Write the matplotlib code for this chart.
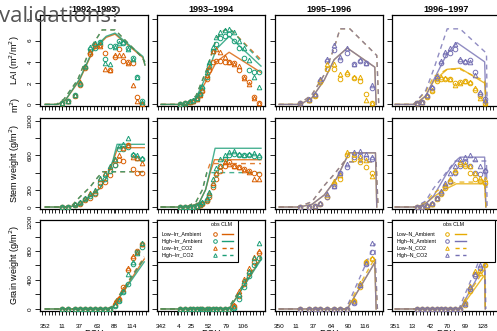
import matplotlib
matplotlib.use('Agg')
import matplotlib.pyplot as plt
from matplotlib.lines import Line2D
from matplotlib.patches import Rectangle

plt.rcParams['font.family'] = ['Liberation Sans', 'DejaVu Sans']

# Dark2 colours
ORANGE, GREEN = '#D95F02', '#1B9E77'
YELLOW, PURPLE = '#E6AB02', '#7570B3'

seasons = ['1992–1993', '1993–1994', '1995–1996', '1996–1997']
tick_doy = [[352, 11, 37, 63, 88, 114],
            [342, 4, 25, 52, 79, 106],
            [350, 11, 37, 64, 90, 116],
            [351, 13, 42, 70, 99, 128]]
year_len = [366, 365, 365, 366]
xlims = [(-7.4, 151.5), (-6.2, 163.3), (-6.1, 158.5), (-4.9, 171)]

# treatments: A = low/ambient, B = high/ambient, C = low/CO2, D = high/CO2
irr_names = ['Low–Irr_Ambient', 'High–Irr_Ambient', 'Low–Irr_CO2', 'High–Irr_CO2']
n_names = ['Low–N_Ambient', 'High–N_Ambient', 'Low–N_CO2', 'High–N_CO2']

# ---------------- 1992-1993 ----------------
obs_day_92 = [25, 34, 44, 51, 59, 66, 74, 81, 88, 96, 103, 109, 115, 122, 129, 135, 143]
lai_92 = dict(
    A=[0.1, 0.3, 0.8, 1.8, 3.4, 4.7, 5.5, 5.6, 4.8, 3.2, 4.5, 5.2, 4.1, 4.0, 3.9, 0.7, 0.05],
    B=[0.1, 0.3, 0.9, 1.9, 3.5, 5.2, 5.3, 5.9, 4.3, 5.5, 5.5, 6.0, 5.8, 5.3, 4.4, 2.6, 0.3],
    C=[0.1, 0.3, 0.9, 2.1, 3.6, 4.9, 5.7, 5.5, 3.3, 3.2, 4.6, 4.6, 4.6, 3.9, 1.8, 0.3, 0.05],
    D=[0.1, 0.3, 0.9, 2.0, 3.6, 5.4, 5.8, 5.9, 3.9, 3.8, 5.4, 5.8, 5.9, 5.2, 4.3, 2.6, 0.2])
stem_92 = dict(
    A=[0, 5, 20, 40, 80, 110, 150, 250, 290, 370, 490, 545, 530, 720, 440, 400, 390],
    B=[0, 5, 25, 50, 90, 130, 165, 280, 320, 420, 490, 680, 670, 700, 600, 570, 560],
    C=[0, 5, 30, 60, 110, 160, 190, 330, 400, 470, 545, 600, 690, 720, 580, 570, 510],
    D=[0, 5, 30, 55, 100, 150, 200, 340, 380, 480, 560, 710, 730, 800, 620, 610, 570])
grain_92 = dict(
    A=[0, 0, 0, 0, 0, 0, 0, 0, 0, 0, 60, 140, 300, 540, 700, 800, 900],
    B=[0, 0, 0, 0, 0, 0, 0, 0, 0, 0, 40, 110, 230, 340, 620, 790, 850],
    C=[0, 0, 0, 0, 0, 0, 0, 0, 0, 0, 100, 150, 280, 560, 730, 780, 890],
    D=[0, 0, 0, 0, 0, 0, 0, 0, 0, 0, 50, 120, 250, 480, 650, 770, 910])
lai_sim_92 = dict(
    A=([0, 19, 30, 51, 71, 90, 103, 144, 147], [0, 0, 0.4, 2.3, 5.1, 6.3, 6.6, 4.4, 3.7]),
    B=([0, 19, 30, 51, 71, 90, 103, 144, 147], [0, 0, 0.4, 2.4, 5.2, 6.4, 6.7, 4.5, 3.7]),
    C=([0, 17, 28, 48, 67, 84, 103, 140, 147], [0, 0, 0.5, 2.3, 5.3, 7.0, 7.0, 4.6, 4.0]),
    D=([0, 17, 28, 48, 67, 84, 103, 140, 147], [0, 0, 0.5, 2.3, 5.3, 7.0, 7.0, 4.6, 4.0]))
stem_sim_92 = dict(
    A=([0, 32, 50, 62, 81, 91, 100, 107, 146], [0, 0, 20, 100, 220, 350, 530, 690, 690]),
    B=([0, 32, 50, 62, 81, 91, 100, 106, 146], [0, 0, 20, 100, 220, 350, 545, 729, 729]),
    C=([0, 28, 40, 51, 66, 78, 85, 146], [0, 0, 20, 115, 230, 350, 410, 410]),
    D=([0, 28, 40, 51, 66, 78, 85, 146], [0, 0, 20, 115, 230, 350, 410, 410]))
grain_sim_92 = dict(
    A=([0, 94, 100, 146], [0, 0, 30, 690]),
    B=([0, 94, 100, 146], [0, 0, 30, 650]),
    C=([0, 92, 98, 146], [0, 0, 30, 720]),
    D=([0, 92, 98, 146], [0, 0, 30, 700]))

# ---------------- 1993-1994 ----------------
obs_day_93 = [30, 37, 45, 50, 56, 61, 65, 72, 76, 81, 87, 92, 100, 107, 115, 123, 131, 138, 146, 154]
lai_93 = dict(
    A=[0.05, 0.1, 0.2, 0.3, 0.5, 0.9, 1.3, 2.4, 3.2, 4.0, 4.1, 4.1, 4.0, 4.0, 3.9, 3.2, 2.6, 2.1, 0.7, 0.1],
    B=[0.05, 0.1, 0.2, 0.3, 0.6, 1.0, 1.5, 2.6, 3.6, 5.0, 5.7, 6.2, 6.4, 6.6, 6.0, 5.3, 4.4, 3.2, 3.0, 3.0],
    C=[0.05, 0.1, 0.2, 0.3, 0.5, 0.9, 1.4, 2.8, 3.5, 5.0, 5.2, 4.9, 4.5, 4.0, 3.8, 3.6, 2.5, 1.9, 0.6, 0.1],
    D=[0.05, 0.1, 0.3, 0.4, 0.6, 1.1, 1.7, 3.0, 4.0, 5.4, 6.3, 6.8, 7.0, 7.1, 6.8, 6.0, 5.3, 4.2, 2.6, 1.6])
stem_93 = dict(
    A=[0, 0, 2, 5, 10, 20, 40, 70, 120, 230, 330, 420, 480, 520, 480, 470, 440, 420, 400, 380],
    B=[0, 0, 2, 5, 10, 25, 45, 80, 140, 260, 380, 480, 560, 600, 620, 600, 610, 600, 590, 580],
    C=[0, 0, 2, 5, 12, 25, 50, 90, 160, 280, 400, 480, 520, 500, 480, 460, 430, 410, 330, 320],
    D=[0, 0, 2, 5, 12, 30, 55, 100, 180, 320, 450, 560, 600, 640, 650, 620, 600, 620, 630, 600])
grain_93 = dict(
    A=[0, 0, 0, 0, 0, 0, 0, 0, 0, 0, 0, 0, 0, 0, 40, 180, 350, 500, 650, 770],
    B=[0, 0, 0, 0, 0, 0, 0, 0, 0, 0, 0, 0, 0, 0, 20, 140, 300, 450, 600, 700],
    C=[0, 0, 0, 0, 0, 0, 0, 0, 0, 0, 0, 0, 0, 0, 60, 250, 420, 560, 720, 800],
    D=[0, 0, 0, 0, 0, 0, 0, 0, 0, 0, 0, 0, 0, 0, 30, 200, 380, 520, 700, 910])
lai_sim_93 = dict(
    A=([0, 40, 55, 72, 87, 107, 157], [0, 0, 0.5, 2.3, 4.0, 4.9, 3.0]),
    B=([0, 40, 55, 72, 87, 107, 157], [0, 0, 0.6, 2.8, 5.2, 6.4, 3.6]),
    C=([0, 38, 55, 72, 87, 100, 110, 157], [0, 0, 0.8, 3.3, 6.2, 7.0, 7.0, 4.2]),
    D=([0, 38, 55, 72, 87, 100, 110, 157], [0, 0, 0.8, 3.3, 6.2, 7.0, 7.0, 4.0]))
stem_sim_93 = dict(
    A=([0, 45, 60, 70, 78, 84, 157], [0, 0, 50, 200, 420, 550, 550]),
    B=([0, 45, 60, 70, 78, 85, 157], [0, 0, 50, 200, 450, 683, 683]),
    C=([0, 40, 55, 65, 72, 77, 157], [0, 0, 60, 200, 400, 505, 505]),
    D=([0, 40, 55, 65, 72, 157], [0, 0, 60, 200, 400, 400]))
grain_sim_93 = dict(
    A=([0, 107, 157], [0, 0, 700]),
    B=([0, 107, 157], [0, 0, 680]),
    C=([0, 105, 157], [0, 0, 730]),
    D=([0, 105, 157], [0, 0, 720]))

# ---------------- 1995-1996 ----------------
obs_day_95 = [32, 46, 55, 62, 73, 84, 93, 104, 114, 123, 133, 142]
lai_95 = dict(
    A=[0.1, 0.4, 0.8, 2.1, 3.3, 3.3, 2.4, 2.9, 2.5, 2.2, 1.0, 0.1],
    B=[0.1, 0.4, 0.9, 2.2, 4.1, 5.1, 4.2, 4.8, 3.8, 4.1, 3.9, 1.5],
    C=[0.1, 0.4, 0.9, 2.3, 3.8, 3.8, 2.9, 3.0, 2.6, 2.6, 0.4, 0.1],
    D=[0.1, 0.5, 1.0, 2.4, 4.3, 5.6, 4.5, 5.3, 3.8, 4.2, 3.9, 1.8])
stem_95 = dict(
    A=[0, 0, 10, 40, 120, 270, 330, 605, 560, 520, 460, 400],
    B=[0, 0, 10, 40, 120, 240, 390, 460, 580, 590, 570, 560],
    C=[0, 0, 10, 45, 140, 300, 370, 640, 620, 580, 550, 360],
    D=[0, 0, 10, 45, 150, 250, 400, 500, 640, 650, 620, 580])
grain_95 = dict(
    A=[0, 0, 0, 0, 0, 0, 0, 0, 110, 300, 650, 690],
    B=[0, 0, 0, 0, 0, 0, 0, 0, 80, 330, 620, 780],
    C=[0, 0, 0, 0, 0, 0, 0, 0, 120, 360, 660, 700],
    D=[0, 0, 0, 0, 0, 0, 0, 0, 100, 330, 640, 910])
lai_sim_95 = dict(
    A=([0, 32, 50, 69, 84, 104, 146, 148], [0, 0, 0.6, 2.3, 4.2, 5.3, 3.5, 0]),
    B=([0, 32, 50, 69, 84, 104, 146, 148], [0, 0, 0.6, 2.3, 4.2, 5.3, 3.5, 0]),
    C=([0, 30, 50, 69, 84, 93, 108, 149, 152], [0, 0, 0.9, 2.8, 5.3, 7.1, 7.1, 4.6, 0]),
    D=([0, 30, 50, 69, 84, 93, 108, 149, 152], [0, 0, 0.9, 2.8, 5.3, 7.1, 7.1, 4.6, 0]))
stem_sim_95 = dict(
    A=([0, 30, 50, 69, 88, 99, 107, 147, 149], [0, 0, 30, 140, 335, 510, 630, 630, 0]),
    B=([0, 30, 50, 69, 88, 99, 107, 147, 149], [0, 0, 30, 140, 335, 510, 630, 630, 0]),
    C=([0, 28, 50, 69, 84, 99, 148, 151], [0, 0, 60, 250, 380, 525, 525, 0]),
    D=([0, 28, 50, 69, 84, 99, 148, 151], [0, 0, 60, 250, 380, 525, 525, 0]))
grain_sim_95 = dict(
    A=([0, 104, 146, 148], [0, 0, 640, 0]),
    B=([0, 104, 146, 148], [0, 0, 640, 0]),
    C=([0, 102, 146, 150], [0, 0, 700, 0]),
    D=([0, 102, 146, 150], [0, 0, 900, 0]))

# ---------------- 1996-1997 ----------------
obs_day_96 = [36, 44, 52, 60, 68, 75, 81, 89, 98, 106, 114, 122, 130, 138, 146]
lai_96 = dict(
    A=[0.1, 0.2, 0.7, 1.3, 2.2, 2.4, 2.4, 2.4, 2.0, 2.1, 2.2, 2.0, 1.4, 0.8, 0.1],
    B=[0.1, 0.2, 0.8, 1.5, 2.5, 3.9, 4.6, 4.8, 5.2, 4.1, 4.0, 4.2, 3.0, 1.0, 0.5],
    C=[0.1, 0.2, 0.8, 1.4, 2.4, 2.6, 2.5, 2.4, 1.8, 2.0, 2.2, 2.1, 1.5, 0.6, 0.1],
    D=[0.1, 0.2, 0.9, 1.6, 2.7, 4.1, 4.9, 5.3, 5.7, 4.3, 4.1, 4.0, 2.8, 1.2, 0.4])
stem_96 = dict(
    A=[0, 5, 15, 35, 90, 150, 220, 290, 410, 500, 480, 400, 320, 300, 280],
    B=[0, 5, 15, 40, 100, 160, 240, 300, 400, 480, 520, 480, 400, 380, 420],
    C=[0, 5, 15, 40, 100, 170, 260, 320, 430, 520, 500, 480, 400, 340, 320],
    D=[0, 5, 20, 45, 110, 190, 280, 390, 480, 560, 580, 600, 560, 480, 430])
grain_96 = dict(
    A=[0, 0, 0, 0, 0, 0, 0, 0, 0, 0, 60, 250, 480, 520, 600],
    B=[0, 0, 0, 0, 0, 0, 0, 0, 0, 0, 80, 280, 450, 560, 770],
    C=[0, 0, 0, 0, 0, 0, 0, 0, 0, 0, 100, 320, 520, 500, 620],
    D=[0, 0, 0, 0, 0, 0, 0, 0, 0, 0, 70, 300, 480, 600, 840])
lai_sim_96 = dict(
    A=([0, 33, 50, 63, 85, 106, 146, 148], [0, 0, 0.8, 2.2, 3.3, 3.4, 2.0, 0]),
    B=([0, 33, 50, 63, 85, 101, 146, 148], [0, 0, 0.8, 2.3, 4.8, 5.8, 4.0, 0]),
    C=([0, 30, 50, 63, 85, 106, 146, 149], [0, 0, 1.2, 2.6, 3.3, 3.3, 2.2, 0]),
    D=([0, 30, 50, 63, 85, 106, 149, 150], [0, 0, 1.3, 3.3, 7.1, 7.1, 4.8, 0]))
stem_sim_96 = dict(
    A=([0, 35, 50, 63, 80, 100, 146, 148], [0, 0, 40, 120, 200, 270, 270, 0]),
    B=([0, 35, 50, 63, 85, 101, 106, 146, 148], [0, 0, 40, 130, 400, 550, 580, 580, 0]),
    C=([0, 33, 50, 63, 80, 100, 146, 148], [0, 0, 60, 160, 240, 290, 290, 0]),
    D=([0, 33, 50, 63, 80, 98, 149, 150], [0, 0, 70, 220, 370, 535, 535, 0]))
grain_sim_96 = dict(
    A=([0, 106, 146, 147], [0, 0, 470, 0]),
    B=([0, 106, 146, 147], [0, 0, 620, 0]),
    C=([0, 104, 146, 147], [0, 0, 550, 0]),
    D=([0, 104, 146, 148], [0, 0, 850, 0]))

obs_days = [obs_day_92, obs_day_93, obs_day_95, obs_day_96]
obs_rows = [[lai_92, lai_93, lai_95, lai_96],
            [stem_92, stem_93, stem_95, stem_96],
            [grain_92, grain_93, grain_95, grain_96]]
sim_rows = [[lai_sim_92, lai_sim_93, lai_sim_95, lai_sim_96],
            [stem_sim_92, stem_sim_93, stem_sim_95, stem_sim_96],
            [grain_sim_92, grain_sim_93, grain_sim_95, grain_sim_96]]

row_labels = ['LAI (m$^2$/m$^2$)', 'Stem weight (g/m$^2$)', 'Grain weight (g/m$^2$)']
row_ylim = [(-0.15, 8.4), (-23, 1035), (-28, 1228)]
row_yticks = [[0, 2, 4, 6, 8], [0, 200, 400, 600, 800, 1000],
              [0, 200, 400, 600, 800, 1000, 1200]]
row_yticklabels = [['0', '2', '4', '6', '8'], ['0', '200', '', '600', '', '1000'],
                   ['0', '', '400', '', '800', '', '1200']]

# ---- layout in pixels ----
W, H = 497, 331
col_left = [40, 157, 275, 392]
row_top = [15, 118, 220]
ax_w, ax_h = 108, 91

fig = plt.figure(figsize=(W / 100, H / 100), dpi=100)


def fx(px):
    return px / W


def fy(py):
    return 1 - py / H


def style(treat, col):
    low, high = (ORANGE, GREEN) if col < 2 else (YELLOW, PURPLE)
    c = {'A': low, 'B': high, 'C': low, 'D': high}[treat]
    mk = 'o' if treat in 'AB' else '^'
    ls = '-' if treat in 'AB' else (0, (3.5, 3))
    return c, mk, ls


for r in range(3):
    for c in range(4):
        ax = fig.add_axes([fx(col_left[c]), fy(row_top[r] + ax_h), fx(ax_w), ax_h / H])
        for t in 'ABCD':
            color, mk, ls = style(t, c)
            xs, ys = sim_rows[r][c][t]
            ax.plot(xs, ys, color=color, ls=ls, lw=1.0, alpha=0.8, zorder=2)
        for t in 'ABCD':
            color, mk, ls = style(t, c)
            ax.plot(obs_days[c], obs_rows[r][c][t], ls='none', marker=mk, ms=3.3,
                    mfc='none', mec=color, mew=0.7, zorder=3)
        ax.set_xlim(xlims[c])
        ax.set_ylim(row_ylim[r])
        # x ticks: labelled DOY + 4 small ticks between
        offs = [(d - tick_doy[c][0]) % year_len[c] for d in tick_doy[c]]
        step = (offs[-1] - offs[0]) / (5 * (len(offs) - 1))
        minor = [offs[0] + k * step for k in range(-2, 40)]
        minor = [m for m in minor if xlims[c][0] <= m <= xlims[c][1]]
        ax.set_xticks(minor, minor=True)
        ax.set_xticks(offs)
        if r == 2:
            ax.set_xticklabels([str(d) for d in tick_doy[c]])
        else:
            ax.set_xticklabels([])
        ax.set_yticks(row_yticks[r])
        if c == 0:
            ax.set_yticklabels(row_yticklabels[r], rotation=90, va='center')
        else:
            ax.set_yticklabels([])
        ax.tick_params(axis='x', which='both', length=3, width=0.6, labelsize=4.6, pad=6)
        ax.tick_params(axis='y', length=3.5, width=0.6, labelsize=4.6, pad=2)
        for s in ax.spines.values():
            s.set_linewidth(0.9)
        if r == 0:
            ax.set_title(seasons[c], fontsize=6.5, fontweight='bold', pad=2)
        if r == 2:
            fig.text(fx(col_left[c] + ax_w / 2), fy(334), 'DOY', fontsize=6.5,
                     ha='center', va='center')
    fig.text(fx(15), fy(row_top[r] + ax_h / 2), row_labels[r], fontsize=6.5,
             rotation=90, ha='center', va='center')

# stray fragment of a label in the original
fig.text(fx(16), fy(105), 'm$^2$)', fontsize=6.5, rotation=90, ha='center', va='center')


# ---- legends (drawn in pixel space) ----
def legend(left, right, names, low, high, lab_dx, mk_dx, ln_dx):
    top, bottom = 220, 262
    fig.add_artist(Rectangle((fx(left), fy(bottom)), fx(right - left), (bottom - top) / H,
                             transform=fig.transFigure, fc='white', ec='black', lw=0.8))
    fig.text(fx(left + mk_dx - 4), fy(225), 'obs CLM', fontsize=3.8, ha='left', va='center')
    cols = [low, high, low, high]
    for i, name in enumerate(names):
        y = 234 + i * 7
        fig.text(fx(left + lab_dx), fy(y), name, fontsize=3.8, ha='left', va='center')
        fig.add_artist(Line2D([fx(left + mk_dx)], [fy(y)], transform=fig.transFigure,
                              marker='o' if i < 2 else '^', ms=2.6, mfc='none',
                              mec=cols[i], mew=0.7, ls='none'))
        fig.add_artist(Line2D([fx(left + ln_dx), fx(left + ln_dx + 11)], [fy(y), fy(y)],
                              transform=fig.transFigure, color=cols[i], lw=1.0,
                              ls='-' if i < 2 else (0, (3, 2.5))))


legend(157, 238, irr_names, ORANGE, GREEN, 5, 58, 65)
legend(392, 495, n_names, YELLOW, PURPLE, 5, 55, 63)

fig.text(-0.002, fy(22), 'validations?', fontsize=16, color='#555555',
         family=['Open Sans', 'DejaVu Sans'], ha='left', va='baseline')

fig.savefig('out.png', dpi=100)
